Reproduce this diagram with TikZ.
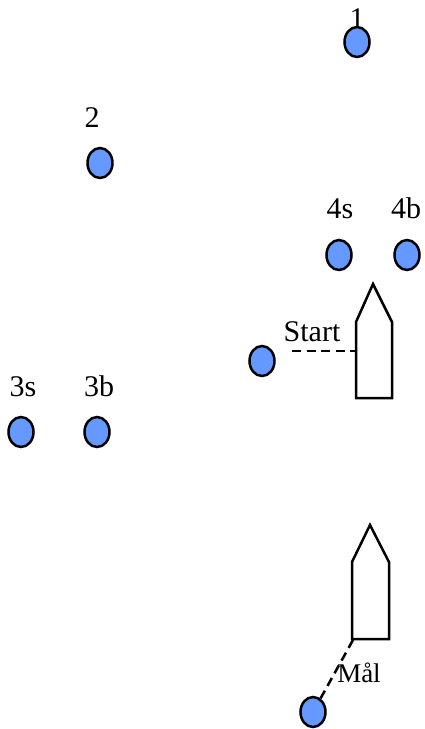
\documentclass[tikz,border=0pt]{standalone}
\usepackage{fontspec}
\setmainfont{Liberation Serif}
\usetikzlibrary{shapes.geometric}
\definecolor{buoyblue}{RGB}{102,153,255}
\begin{document}
\begin{tikzpicture}[x=1pt,y=-1pt,
  buoy/.style={ellipse,draw=black,fill=buoyblue,line width=2.5pt,minimum width=25pt,minimum height=30pt,inner sep=0pt},
  lbl/.style={anchor=base,inner sep=0pt,font=\fontsize{30}{31}\selectfont},
  boat/.style={draw=black,line width=2.5pt,fill=white,line join=miter},
  line/.style={draw=black,line width=2.5pt,dash pattern=on 9pt off 5.5pt}]
\useasboundingbox (0,0) rectangle (425,729);
% buoys
\node[buoy] (b1) at (357,42) {};
\node[buoy] (b2) at (100,163) {};
\node[buoy] (b4s) at (339,255) {};
\node[buoy] (b4b) at (407,255) {};
\node[buoy] (bstart) at (262,361) {};
\node[buoy] (b3s) at (21,432) {};
\node[buoy] (b3b) at (97,432) {};
\node[buoy] (bmal) at (313,712) {};
% labels
\node[lbl] (l1) at (357,28) {1};
\node[lbl] (l2) at (92,127) {2};
\node[lbl] (l4s) at (340,218) {4s};
\node[lbl] (l4b) at (406,218) {4b};
\node[lbl] (l3s) at (23,396) {3s};
\node[lbl] (l3b) at (99,396) {3b};
\node[lbl] (lstart) at (312,341) {Start};
\node[lbl,font=\fontsize{27}{28}\selectfont] (lmal) at (359,682) {Mål};
% start boat
\draw[boat] (356,398) -- (392,398) -- (392,322) -- (373,284) -- (356,322) -- cycle;
\coordinate (startside) at (356,351);
\coordinate (startend) at (292,351);
\draw[line] (startend) -- (startside);
% finish boat
\draw[boat] (352,639) -- (389,639) -- (389,562) -- (370,525) -- (352,562) -- cycle;
\coordinate (malcorner) at (353,640);
\draw[line] (malcorner) -- (bmal);
\end{tikzpicture}
\end{document}
